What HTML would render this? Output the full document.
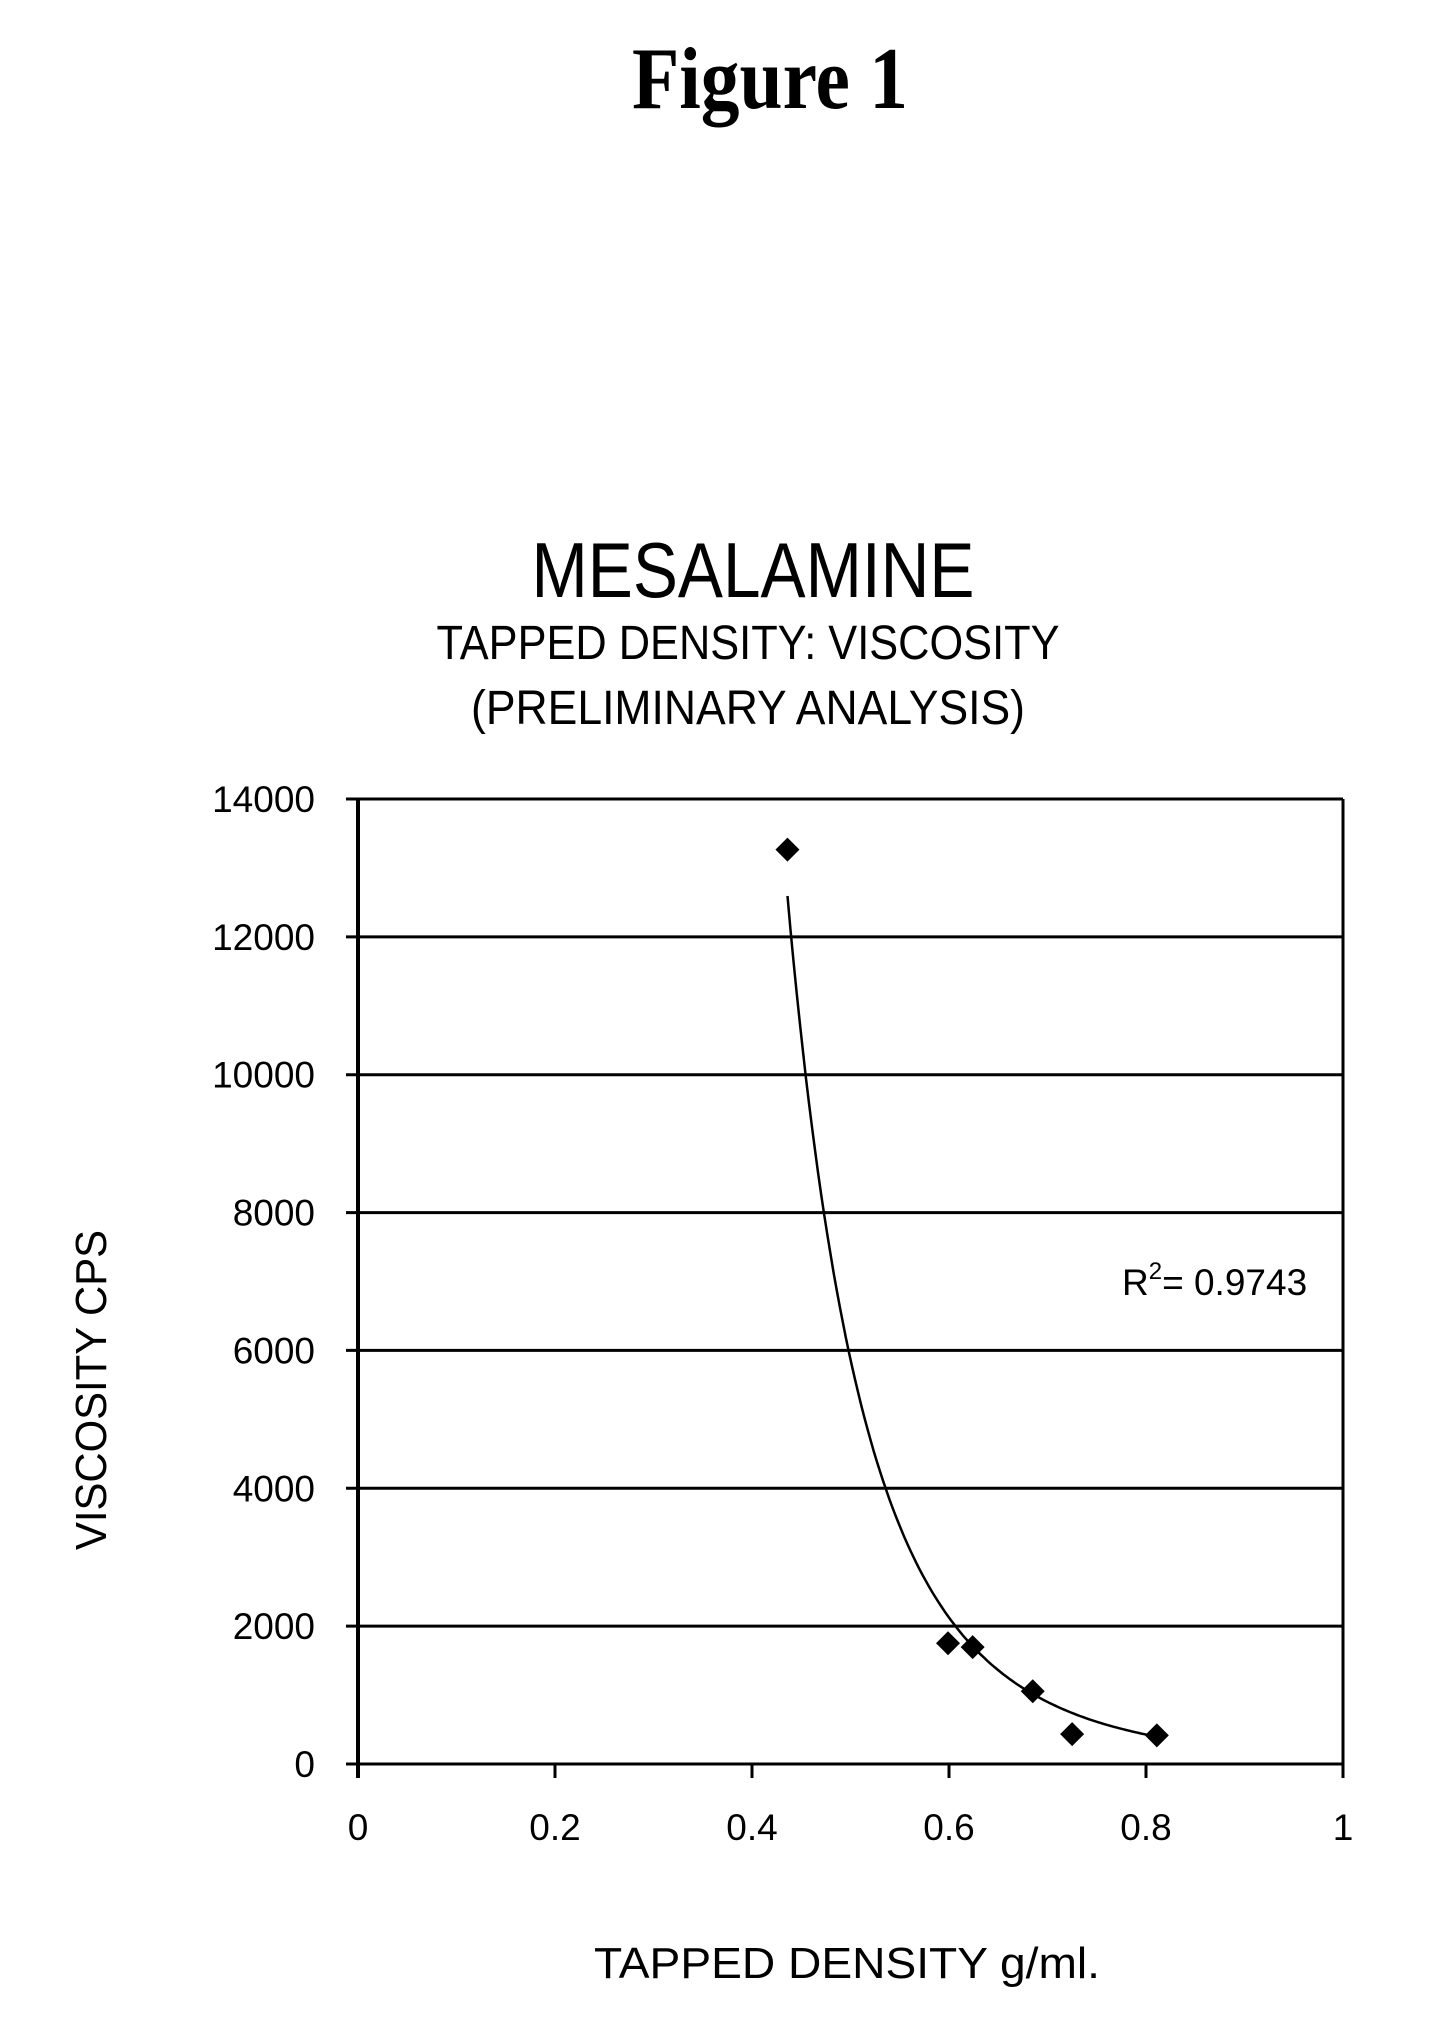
<!DOCTYPE html>
<html><head><meta charset="utf-8"><style>
html,body{margin:0;padding:0;background:#fff;}
svg{display:block;font-family:"Liberation Sans",sans-serif;}
</style></head><body>
<svg id="chart" width="1445" height="2044" viewBox="0 0 1445 2044">
<text x="770" y="108" font-family="Liberation Serif, serif" font-weight="bold" font-size="88" text-anchor="middle" textLength="276" lengthAdjust="spacingAndGlyphs">Figure 1</text>
<text x="753" y="597" font-size="78" text-anchor="middle" textLength="443" lengthAdjust="spacingAndGlyphs">MESALAMINE</text>
<text x="748" y="659" font-size="48" text-anchor="middle" textLength="623" lengthAdjust="spacingAndGlyphs">TAPPED DENSITY: VISCOSITY</text>
<text x="748" y="724" font-size="48" text-anchor="middle" textLength="554" lengthAdjust="spacingAndGlyphs">(PRELIMINARY ANALYSIS)</text>
<text x="847" y="1978" font-size="44" text-anchor="middle" textLength="506" lengthAdjust="spacingAndGlyphs">TAPPED DENSITY g/ml.</text>
<text x="0" y="0" font-size="44" text-anchor="middle" transform="translate(106,1390) rotate(-90)" textLength="320" lengthAdjust="spacingAndGlyphs">VISCOSITY CPS</text>
<g id="plot"></g>
</svg>
<script>
const xTicks = [0, 0.2, 0.4, 0.6, 0.8, 1];
const xTickLabels = ["0", "0.2", "0.4", "0.6", "0.8", "1"];
const yTicks = [0, 2000, 4000, 6000, 8000, 10000, 12000, 14000];
const yTickLabels = ["0", "2000", "4000", "6000", "8000", "10000", "12000", "14000"];
const densityValues = [0.436, 0.599, 0.624, 0.685, 0.725, 0.811];
const viscosityValues = [13265, 1752, 1696, 1055, 433, 415];
const trendCoefA = [123.3];
const trendExponent = [-5.573];
const trendRange = [0.436, 0.811];
const rSquaredLabel = ["0.9743"];

const NS = "http://www.w3.org/2000/svg";
const L = 358, R = 1343, T = 799, B = 1764;
const X = v => L + (v - 0) / (1 - 0) * (R - L);
const Y = v => B - (v - 0) / (14000 - 0) * (B - T);
const g = document.getElementById('plot');
function mk(tag, attrs) {
  const e = document.createElementNS(NS, tag);
  for (const k in attrs) e.setAttribute(k, attrs[k]);
  g.appendChild(e);
  return e;
}
yTicks.forEach((v, i) => {
  const ln = mk('line', {x1: L - 12, x2: R, y1: Y(v), y2: Y(v), stroke: '#000', 'stroke-width': 3});
  
  
  const t = mk('text', {x: 315, y: Y(v) + 13, 'font-size': 37, 'text-anchor': 'end'});
  t.textContent = yTickLabels[i];
  
  
});
xTicks.forEach((v, i) => {
  const tk = mk('line', {x1: X(v), x2: X(v), y1: B, y2: B + 14, stroke: '#000', 'stroke-width': 3});
  
  
  const t = mk('text', {x: X(v), y: 1840, 'font-size': 37, 'text-anchor': 'middle'});
  t.textContent = xTickLabels[i];
  
  
});
const ya = mk('line', {x1: L, x2: L, y1: T, y2: B + 14, stroke: '#000', 'stroke-width': 4});


const ra = mk('line', {x1: R, x2: R, y1: T, y2: B, stroke: '#000', 'stroke-width': 3});


let d = '';
for (let k = 0; k <= 120; k++) {
  const xv = trendRange[0] + (trendRange[1] - trendRange[0]) * k / 120;
  const yv = trendCoefA[0] * Math.pow(xv, trendExponent[0]);
  d += (k ? 'L' : 'M') + X(xv).toFixed(1) + ',' + Y(yv).toFixed(1);
}
const tr = mk('path', {d: d, fill: 'none', stroke: '#000', 'stroke-width': 2.5});


densityValues.forEach((xv, i) => {
  const cx = X(xv), cy = Y(viscosityValues[i]), s = 12;
  const p = mk('polygon', {points: `${cx},${cy - s} ${cx + s},${cy} ${cx},${cy + s} ${cx - s},${cy}`, fill: '#000'});
  
  
});
const rl = mk('text', {x: 1122, y: 1295, 'font-size': 37});
rl.innerHTML = 'R<tspan font-size="24" dy="-16">2</tspan><tspan dy="16">= ' + rSquaredLabel[0] + '</tspan>';


</script>
</body></html>
